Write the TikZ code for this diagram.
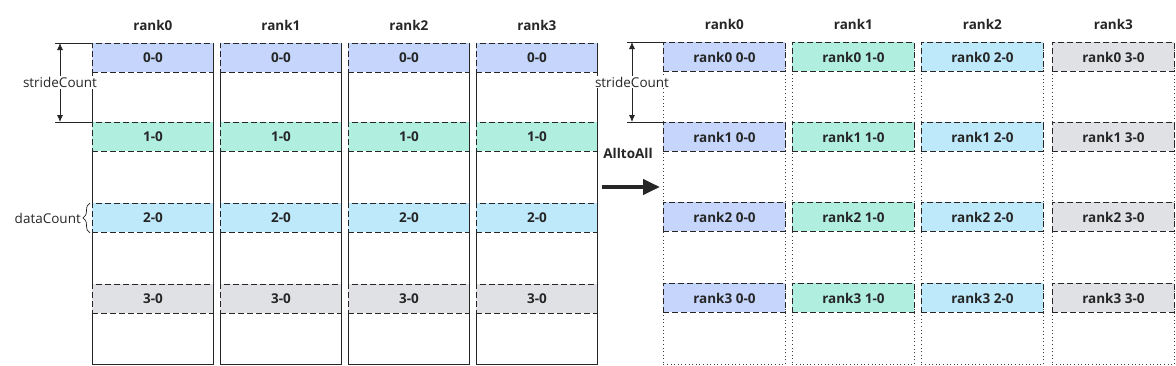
\documentclass[tikz,border=0pt]{standalone}
\usepackage{fontspec}
\setmainfont{Open Sans}
\usepackage{tikz}
\usetikzlibrary{shapes, arrows.meta, positioning, calc, decorations.pathreplacing}

\definecolor{blu}{RGB}{197,213,251}
\definecolor{grn}{RGB}{176,238,224}
\definecolor{cyn}{RGB}{190,233,250}
\definecolor{gry}{RGB}{224,225,229}
\definecolor{txt}{RGB}{38,38,38}

\begin{document}
\begin{tikzpicture}[x=1pt, y=-1pt, text=txt,
    every node/.style={font=\fontsize{13.5}{16}\selectfont},
    col/.style={rectangle, draw=txt, line width=0.8pt, minimum width=121pt, minimum height=321pt, inner sep=0pt, anchor=north west},
    dcol/.style={rectangle, draw=txt!90, line width=0.9pt, dash pattern=on 1pt off 2.6pt, minimum width=122pt, minimum height=322pt, inner sep=0pt, anchor=north west},
    blk/.style={rectangle, draw=txt, line width=0.9pt, dash pattern=on 6pt off 3pt, minimum width=121pt, minimum height=29pt, inner sep=0pt, anchor=north west, font=\fontsize{13.5}{16}\selectfont\bfseries},
    hdr/.style={font=\fontsize{13.5}{16}\selectfont\bfseries}]
                \useasboundingbox (0,0) rectangle (1176,365);
                % before
                \node[col] (c0) at (92,43) {};
                \node[col] (c1) at (220,43) {};
                \node[col] (c2) at (348,43) {};
                \node[col] (c3) at (476,43) {};
                \node[blk, fill=blu] (b00) at (92,43) {0-0};
                \node[blk, fill=blu] (b01) at (220,43) {0-0};
                \node[blk, fill=blu] (b02) at (348,43) {0-0};
                \node[blk, fill=blu] (b03) at (476,43) {0-0};
                \node[blk, fill=grn] (b10) at (92,122) {1-0};
                \node[blk, fill=grn] (b11) at (220,122) {1-0};
                \node[blk, fill=grn] (b12) at (348,122) {1-0};
                \node[blk, fill=grn] (b13) at (476,122) {1-0};
                \node[blk, fill=cyn] (b20) at (92,203) {2-0};
                \node[blk, fill=cyn] (b21) at (220,203) {2-0};
                \node[blk, fill=cyn] (b22) at (348,203) {2-0};
                \node[blk, fill=cyn] (b23) at (476,203) {2-0};
                \node[blk, fill=gry] (b30) at (92,284) {3-0};
                \node[blk, fill=gry] (b31) at (220,284) {3-0};
                \node[blk, fill=gry] (b32) at (348,284) {3-0};
                \node[blk, fill=gry] (b33) at (476,284) {3-0};
                \node[hdr, above=9pt of c0] (h0) {rank0};
                \node[hdr, above=9pt of c1] (h1) {rank1};
                \node[hdr, above=9pt of c2] (h2) {rank2};
                \node[hdr, above=9pt of c3] (h3) {rank3};
                \draw[txt, line width=0.8pt] (c0.north west) -- ++(-37,0);
                \draw[txt, line width=0.8pt] (b10.north west) -- ++(-37,0);
                \draw[txt, line width=0.8pt, {Latex[length=7pt,width=6pt]}-{Latex[length=7pt,width=6pt]}] ([xshift=-32pt]c0.north west) -- ([xshift=-32pt]b10.north west) node[midway, fill=white, inner sep=1pt] (sc) {strideCount};
                \draw[txt, line width=0.7pt, decorate, decoration={brace, amplitude=7pt}] ([xshift=-2pt]b20.south west) -- ([xshift=-2pt]b20.north west) coordinate[midway, xshift=-9pt] (bt);
                \node[anchor=east, inner sep=0pt] (dc) at (bt) {dataCount};
                % alltoall
                \coordinate (p0) at (602,187);
                \coordinate (p1) at (660,187);
                \draw[txt, line width=4pt, -{Triangle[length=17pt,width=15pt]}] (p0) -- (p1);
                \node[hdr] (at) at (628,153) {AlltoAll};
                % after
                \node[dcol] (d0) at (663,42) {};
                \node[dcol] (d1) at (792,42) {};
                \node[dcol] (d2) at (921,42) {};
                \node[dcol] (d3) at (1052,42) {};
                \node[blk, minimum width=122pt, fill=blu] (e00) at (663,42) {rank0 0-0};
                \node[blk, minimum width=122pt, fill=grn] (e01) at (792,42) {rank0 1-0};
                \node[blk, minimum width=122pt, fill=cyn] (e02) at (921,42) {rank0 2-0};
                \node[blk, minimum width=122pt, fill=gry] (e03) at (1052,42) {rank0 3-0};
                \node[blk, minimum width=122pt, fill=blu] (e10) at (663,122) {rank1 0-0};
                \node[blk, minimum width=122pt, fill=grn] (e11) at (792,122) {rank1 1-0};
                \node[blk, minimum width=122pt, fill=cyn] (e12) at (921,122) {rank1 2-0};
                \node[blk, minimum width=122pt, fill=gry] (e13) at (1052,122) {rank1 3-0};
                \node[blk, minimum width=122pt, fill=blu] (e20) at (663,202) {rank2 0-0};
                \node[blk, minimum width=122pt, fill=grn] (e21) at (792,202) {rank2 1-0};
                \node[blk, minimum width=122pt, fill=cyn] (e22) at (921,202) {rank2 2-0};
                \node[blk, minimum width=122pt, fill=gry] (e23) at (1052,202) {rank2 3-0};
                \node[blk, minimum width=122pt, fill=blu] (e30) at (663,283) {rank3 0-0};
                \node[blk, minimum width=122pt, fill=grn] (e31) at (792,283) {rank3 1-0};
                \node[blk, minimum width=122pt, fill=cyn] (e32) at (921,283) {rank3 2-0};
                \node[blk, minimum width=122pt, fill=gry] (e33) at (1052,283) {rank3 3-0};
                \node[hdr, above=9pt of d0] (g0) {rank0};
                \node[hdr, above=9pt of d1] (g1) {rank1};
                \node[hdr, above=9pt of d2] (g2) {rank2};
                \node[hdr, above=9pt of d3] (g3) {rank3};
                \draw[txt, line width=0.8pt] (d0.north west) -- ++(-36,0);
                \draw[txt, line width=0.8pt] (e10.north west) -- ++(-36,0);
                \draw[txt, line width=0.8pt, {Latex[length=7pt,width=6pt]}-{Latex[length=7pt,width=6pt]}] ([xshift=-31pt]d0.north west) -- ([xshift=-31pt]e10.north west) node[midway, fill=white, inner sep=1pt] (sd) {strideCount};
            \end{tikzpicture}
\end{document}
